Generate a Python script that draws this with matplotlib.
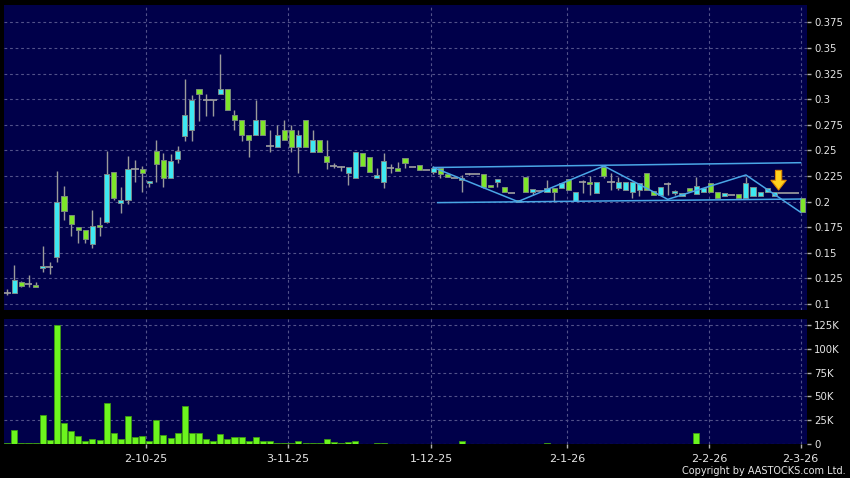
import matplotlib
matplotlib.use("Agg")
import matplotlib.pyplot as plt
import numpy as np

# ---------------- data ----------------
opens = [0.111,0.111,0.121,0.120,0.119,0.135,0.136,0.146,0.205,0.187,
         0.175,0.172,0.159,0.177,0.180,0.229,0.199,0.202,0.232,0.232,
         0.218,0.249,0.241,0.223,0.242,0.264,0.270,0.310,0.299,0.299,
         0.305,0.310,0.285,0.280,0.265,0.265,0.280,0.254,0.253,0.270,
         0.270,0.253,0.280,0.248,0.260,0.245,0.235,0.234,0.228,0.223,
         0.247,0.244,0.223,0.219,0.233,0.233,0.243,0.234,0.236,0.231,
         0.229,0.233,0.227,0.223,0.221,0.227,0.227,0.227,0.216,0.219,
         0.214,0.208,0.200,0.224,0.209,0.210,0.209,0.213,0.213,0.222,
         0.201,0.219,0.219,0.208,0.234,0.219,0.213,0.211,0.209,0.211,
         0.228,0.210,0.206,0.217,0.208,0.205,0.213,0.207,0.209,0.218,
         0.209,0.205,0.206,0.207,0.204,0.205,0.205,0.209,0.205,0.208,
         0.208,0.208,0.204]
highs = [0.115,0.138,0.122,0.128,0.121,0.157,0.141,0.230,0.215,0.187,
         0.175,0.172,0.192,0.185,0.249,0.229,0.214,0.245,0.241,0.235,
         0.220,0.260,0.247,0.246,0.254,0.320,0.304,0.310,0.305,0.299,
         0.344,0.310,0.289,0.280,0.265,0.299,0.280,0.270,0.275,0.280,
         0.275,0.270,0.280,0.270,0.260,0.260,0.238,0.235,0.234,0.248,
         0.247,0.244,0.233,0.247,0.237,0.239,0.243,0.234,0.236,0.231,
         0.235,0.233,0.227,0.223,0.226,0.228,0.227,0.227,0.216,0.222,
         0.214,0.208,0.202,0.224,0.212,0.210,0.221,0.213,0.218,0.222,
         0.209,0.221,0.225,0.219,0.236,0.228,0.224,0.219,0.219,0.218,
         0.228,0.210,0.214,0.219,0.211,0.208,0.213,0.224,0.213,0.218,
         0.209,0.208,0.206,0.207,0.224,0.214,0.209,0.213,0.209,0.208,
         0.208,0.208,0.204]
lows = [0.109,0.111,0.117,0.117,0.117,0.131,0.129,0.141,0.182,0.166,
        0.160,0.160,0.155,0.166,0.179,0.202,0.189,0.198,0.219,0.209,
        0.214,0.219,0.214,0.223,0.238,0.259,0.259,0.279,0.284,0.284,
        0.305,0.289,0.270,0.259,0.244,0.265,0.265,0.248,0.253,0.260,
        0.248,0.228,0.253,0.248,0.248,0.232,0.233,0.230,0.216,0.223,
        0.235,0.229,0.223,0.213,0.228,0.230,0.233,0.234,0.231,0.231,
        0.227,0.223,0.224,0.223,0.209,0.226,0.227,0.213,0.214,0.214,
        0.209,0.208,0.200,0.209,0.206,0.210,0.209,0.200,0.213,0.211,
        0.201,0.208,0.206,0.208,0.223,0.211,0.211,0.211,0.204,0.205,
        0.211,0.206,0.206,0.206,0.206,0.205,0.210,0.207,0.209,0.209,
        0.204,0.205,0.206,0.204,0.204,0.205,0.205,0.209,0.205,0.208,
        0.208,0.208,0.190]
closes = [0.111,0.123,0.118,0.120,0.117,0.137,0.136,0.200,0.191,0.178,
          0.172,0.163,0.176,0.175,0.227,0.204,0.202,0.232,0.232,0.228,
          0.220,0.237,0.223,0.240,0.249,0.285,0.299,0.305,0.299,0.299,
          0.310,0.289,0.280,0.265,0.260,0.280,0.265,0.254,0.265,0.260,
          0.253,0.265,0.253,0.260,0.248,0.239,0.235,0.234,0.234,0.248,
          0.235,0.229,0.226,0.240,0.233,0.230,0.238,0.234,0.231,0.231,
          0.233,0.227,0.224,0.223,0.223,0.227,0.227,0.214,0.214,0.222,
          0.209,0.208,0.202,0.209,0.212,0.210,0.213,0.209,0.218,0.211,
          0.209,0.219,0.217,0.219,0.225,0.219,0.219,0.219,0.219,0.218,
          0.211,0.206,0.214,0.217,0.210,0.208,0.210,0.215,0.213,0.209,
          0.204,0.208,0.206,0.204,0.218,0.214,0.209,0.213,0.209,0.208,
          0.208,0.208,0.190]
volumes_k = [1.0,14.8,1.4,1.4,0.7,30.0,4.2,125.0,22.5,13.7,
             8.1,3.2,5.6,3.9,43.3,11.3,4.9,29.6,7.4,8.8,
             2.8,25.4,9.9,6.7,12.0,39.4,11.6,11.3,5.6,2.8,
             10.9,5.3,7.4,7.0,3.5,7.7,2.8,3.2,0.7,1.4,
             0.7,2.8,1.4,0.7,1.4,5.6,2.1,0.7,2.1,3.2,
             0.3,0.3,1.4,1.4,0.5,0.0,0.5,0.0,0.5,0.0,
             0.5,0.5,0.5,0.0,3.5,0.0,0.0,0.2,0.2,0.5,
             0.5,0.0,0.5,0.2,0.5,0.0,1.0,0.2,0.5,0.2,
             0.2,0.2,0.2,0.2,0.5,0.5,0.5,0.2,0.2,0.2,
             0.5,0.2,0.2,0.2,0.2,0.2,0.5,11.3,0.2,0.2,
             0.2,0.2,0.0,0.5,0.2,0.2,0.2,0.2,0.2,0.0,
             0.0,0.0,0.2]

date_labels = ["2-10-25", "3-11-25", "1-12-25", "2-1-26", "2-2-26", "2-3-26"]
date_pos = [19.5, 39.55, 59.7, 78.8, 98.85, 111.7]

price_ticks = [0.1, 0.125, 0.15, 0.175, 0.2, 0.225, 0.25, 0.275, 0.3, 0.325, 0.35, 0.375]
price_tick_labels = ["0.1", "0.125", "0.15", "0.175", "0.2", "0.225", "0.25",
                     "0.275", "0.3", "0.325", "0.35", "0.375"]
vol_ticks = [0, 25000, 50000, 75000, 100000, 125000]
vol_tick_labels = ["0", "25K", "50K", "75K", "100K", "125K"]

# trendlines (index, price)
upper_line_x = [60.0, 111.7]
upper_line_y = [0.2333, 0.2380]
lower_line_x = [60.6, 111.7]
lower_line_y = [0.1990, 0.2025]
zigzag_x = [60.0, 71.9, 84.0, 93.0, 104.0, 111.7]
zigzag_y = [0.2333, 0.2000, 0.2348, 0.2022, 0.2260, 0.1896]

arrow_x = 108.6
arrow_tail = 0.2305
arrow_tip = 0.2113

# ---------------- style ----------------
BG = "#000000"
PANEL = "#00004a"
GRID = "#52528a"
UP = "#3ee8f2"
DOWN = "#7ee62a"
WICK = "#9a9a9a"
FLAT = "#a0a0a0"
VOL = "#6cf51e"
VOL_EDGE = "#3c9a12"
LINE = "#4aa6e6"
TXT = "#e6e6e6"

n = len(opens)
x = np.arange(n)
o = np.array(opens); h = np.array(highs); l = np.array(lows); c = np.array(closes)
v = np.array(volumes_k) * 1000

fig = plt.figure(figsize=(8.5, 4.78), dpi=100, facecolor=BG)
W, H = 850, 478
ax = fig.add_axes([4 / W, 1 - 310 / H, 803 / W, 305 / H])
axv = fig.add_axes([4 / W, 1 - 444 / H, 803 / W, 125 / H])

xlim = (-0.45, 112.6)
for a in (ax, axv):
    a.set_facecolor(PANEL)
    for s in a.spines.values():
        s.set_visible(False)
    a.set_xlim(*xlim)
    a.set_axisbelow(True)
    a.yaxis.tick_right()
    a.tick_params(axis="y", colors="#b0b0b0", labelcolor=TXT, length=3, width=1,
                  pad=2, labelsize=7.3)
    for xp in date_pos:
        a.axvline(xp, color=GRID, lw=0.8, ls=(0, (2.5, 2.5)), zorder=0)

# price panel
ax.set_ylim(0.09414, 0.39199)
ax.set_yticks(price_ticks)
ax.set_yticklabels(price_tick_labels)
for yv in price_ticks:
    ax.axhline(yv, color=GRID, lw=0.8, ls=(0, (2.5, 2.5)), zorder=0)
ax.set_xticks([])

bw = 0.72
ax.vlines(x, l, h, color=WICK, lw=1.0, zorder=2)
flat = o == c
up = (c > o)
dn = (c < o)
ax.bar(x[up], (c - o)[up], bottom=o[up], width=bw, color=UP, edgecolor="#7a8a8a",
       linewidth=0.7, zorder=3)
ax.bar(x[dn], (o - c)[dn], bottom=c[dn], width=bw, color=DOWN, edgecolor="#7a8a7a",
       linewidth=0.7, zorder=3)
ax.hlines(o[flat], x[flat] - 0.5, x[flat] + 0.5, color=FLAT, lw=1.2, zorder=3)

ax.plot(upper_line_x, upper_line_y, color=LINE, lw=1.1, zorder=4)
ax.plot(lower_line_x, lower_line_y, color=LINE, lw=1.1, zorder=4)
ax.plot(zigzag_x, zigzag_y, color=LINE, lw=1.1, zorder=4)

ax.annotate("", xy=(arrow_x, arrow_tip), xytext=(arrow_x, arrow_tail),
            arrowprops=dict(arrowstyle="simple,head_width=11,head_length=7,tail_width=4.5",
                            mutation_scale=1, facecolor="#ffd21e", edgecolor="#e08a00",
                            linewidth=0.8, shrinkA=0, shrinkB=0),
            zorder=6)

# volume panel
axv.set_ylim(0, 131300)
axv.set_yticks(vol_ticks)
axv.set_yticklabels(vol_tick_labels)
for yv in vol_ticks:
    axv.axhline(yv, color=GRID, lw=0.8, ls=(0, (2.5, 2.5)), zorder=0)
axv.bar(x, v, width=0.85, color=VOL, edgecolor=VOL_EDGE, linewidth=0.6, zorder=3)
axv.set_xticks(date_pos)
axv.set_xticklabels(date_labels)
axv.tick_params(axis="x", colors="#b0b0b0", labelcolor=TXT, length=3, width=1,
                pad=4, labelsize=8)

fig.text(846 / W, 1 - 471.5 / H, "Copyright by AASTOCKS.com Ltd.", color=TXT,
         fontsize=7.0, ha="right", va="center")

fig.savefig("out.png", dpi=100, facecolor=BG)
